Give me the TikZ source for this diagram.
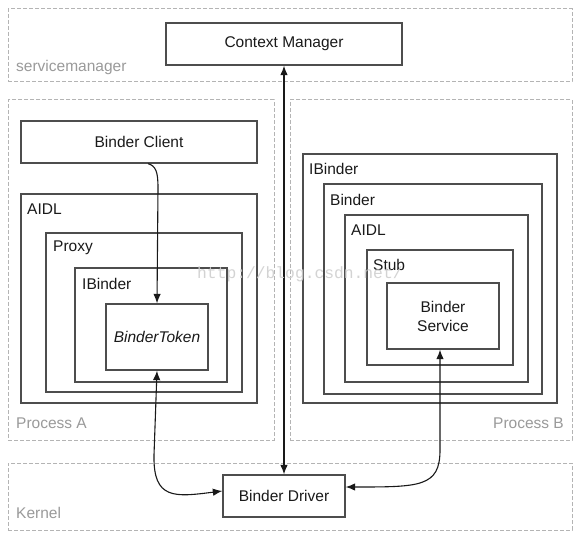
\documentclass[tikz,border=0pt]{standalone}
\usepackage{fontspec}
\setmainfont{Liberation Sans}
\newfontfamily\wmfont{Liberation Mono}
\usetikzlibrary{arrows.meta,calc}
\definecolor{boxc}{HTML}{4D4D4D}
\definecolor{dashc}{HTML}{B4B4B4}
\definecolor{lblc}{HTML}{9A9A9A}
\definecolor{txtc}{HTML}{1A1A1A}
\definecolor{wmc}{HTML}{CFCFCF}
\begin{document}
\begin{tikzpicture}[x=1pt,y=-1pt,
  mainfont/.style={font=\fontsize{15.5}{19}\selectfont},
  sbox/.style={draw=boxc, line width=1.3pt, fill=white, inner sep=0pt, text=txtc, mainfont, align=center},
  dbox/.style={draw=dashc, line width=1pt, dash pattern=on 4pt off 2pt, fill=white, inner sep=0pt},
  tag/.style={inner sep=0pt, text=txtc, mainfont, anchor=west},
  graytag/.style={inner sep=0pt, text=lblc, mainfont},
  conn/.style={draw=black!90, line width=1.1pt, -{Latex[length=9.5pt,width=7.5pt]}},
  dconn/.style={draw=black!90, line width=1.1pt, {Latex[length=9.5pt,width=7.5pt]}-{Latex[length=9.5pt,width=7.5pt]}}
]
\useasboundingbox (0,0) rectangle (583,540);
\fill[white] (0,0) rectangle (583,540);

% dashed containers
\node[dbox, minimum width=564pt, minimum height=73pt] (sm) at (290,45.5) {};
\node[dbox, minimum width=266pt, minimum height=340pt] (pa) at (141,270) {};
\node[dbox, minimum width=282pt, minimum height=340pt] (pb) at (431,270) {};
\node[dbox, minimum width=564pt, minimum height=67pt] (kern) at (290,496.5) {};

\node[graytag, anchor=west] (smlbl) at (16,67) {servicemanager};
\node[graytag, anchor=west] (palbl) at (16,423) {Process A};
\node[graytag, anchor=east] (pblbl) at (564,423) {Process B};
\node[graytag, anchor=west] (klbl) at (16,513) {Kernel};

% servicemanager
\node[sbox, minimum width=236pt, minimum height=42pt] (cm) at (284,44) {Context Manager};

% Process A
\node[sbox, minimum width=236pt, minimum height=42pt] (client) at (139,142) {Binder Client};
\node[sbox, minimum width=236pt, minimum height=209pt] (aidlA) at (139,298.5) {};
\node[tag] (aidlAl) at (27,209) {AIDL};
\node[sbox, minimum width=196pt, minimum height=159pt] (proxy) at (144,312.5) {};
\node[tag] (proxyl) at (53,248) {Proxy};
\node[sbox, minimum width=152pt, minimum height=114pt] (ibA) at (151,325) {};
\node[tag] (ibAl) at (82,284) {IBinder};
\node[sbox, minimum width=102pt, minimum height=66pt, font=\fontsize{15.5}{19}\selectfont\itshape] (tok) at (157,337) {BinderToken};

% Process B
\node[sbox, minimum width=254pt, minimum height=249pt] (ibB) at (430,278.5) {};
\node[tag] (ibBl) at (309,169) {IBinder};
\node[sbox, minimum width=218pt, minimum height=210pt] (binderB) at (433,289) {};
\node[tag] (binderBl) at (330,200) {Binder};
\node[sbox, minimum width=183pt, minimum height=167pt] (aidlB) at (436.5,298.5) {};
\node[tag] (aidlBl) at (351,230) {AIDL};
\node[sbox, minimum width=146pt, minimum height=115pt] (stub) at (440,307.5) {};
\node[tag] (stubl) at (373,265) {Stub};
\node[sbox, minimum width=112pt, minimum height=66pt] (svc) at (443,316) {Binder\\Service};

% Kernel
\node[sbox, minimum width=122pt, minimum height=42pt] (drv) at (284,496) {Binder Driver};

% connectors
\draw[dconn] (cm.south) -- (drv.north);
\draw[conn] ([xshift=9pt]client.south) .. controls (156,166) and (158,172) .. (158,188) -- (tok.north);
\draw[dconn] (tok.south) -- (154,455) .. controls (153,500) and (175,497) .. ([yshift=5pt]drv.west);
\draw[dconn] ([xshift=-3pt]svc.south) -- (440,450) .. controls (440,487) and (420,487) .. ([yshift=9pt]drv.east);

% watermark
\node[anchor=base west, inner sep=0pt, text=wmc, opacity=0.9, font=\wmfont\fontsize{16.3}{16}\selectfont] (wm) at (197,278) {http://blog.csdn.net/};
\end{tikzpicture}
\end{document}
